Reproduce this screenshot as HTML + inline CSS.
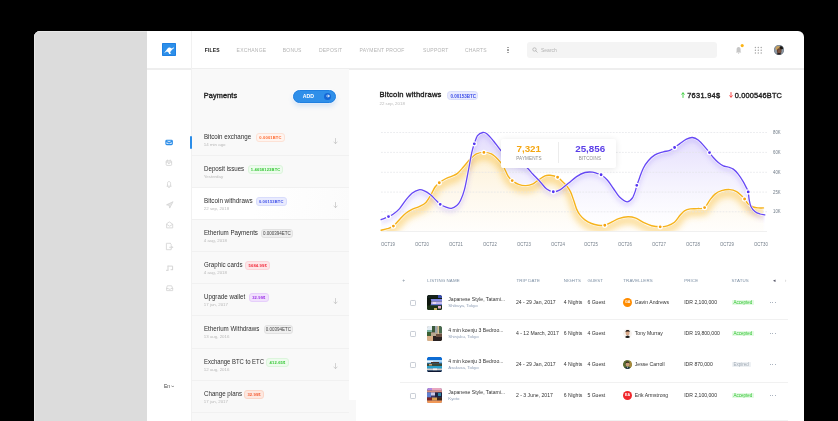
<!DOCTYPE html>
<html><head><meta charset="utf-8">
<style>
*{margin:0;padding:0;box-sizing:border-box}
html,body{width:838px;height:421px;overflow:hidden;background:#000}
body{font-family:"Liberation Sans",sans-serif;position:relative;color:#333;will-change:transform}
.a{position:absolute}
.t{position:absolute;white-space:nowrap;line-height:1}
#frame{left:34px;top:31px;width:770px;height:400px;background:#fff;border-radius:6px 6px 0 0;overflow:hidden}
#gray{left:0;top:0;width:113px;height:400px;background:#dcdcdc;box-shadow:inset 1px 1px 0 #e8e8e8}
.nav{font-size:5px;letter-spacing:0.2px;color:#b4b4b4;top:47.6px}

.pi{position:absolute;left:192px;width:156.5px;height:32.1px;border-bottom:1px solid #f1f1f1}
.pi.sel{background:linear-gradient(100deg,#fff 0%,#fff 40%,#fbfbfb 100%);border-bottom-color:#f0f0f0}
.pt{position:absolute;left:11.8px;top:9.1px;font-size:7.2px;line-height:1;color:#2e2e2e;white-space:nowrap;transform:scaleX(0.86);transform-origin:0 0}
.bd{position:absolute;top:8.7px;font-size:4.1px;letter-spacing:0.15px;font-weight:700;height:8.9px;line-height:7.7px;text-align:center;border-radius:3px;border:0.6px solid transparent;white-space:nowrap}
.bd.r{color:#ff6a30;background:#fff4ef;border-color:#fde2d6}
.bd.g{color:#34c734;background:#edfbed;border-color:#dcf5dc}
.bd.b{color:#3d4ee8;background:#e9ebfe;border-color:#d9ddfc}
.bd.k{color:#444;background:#efefef;border-color:#e2e2e2;font-weight:400;font-size:4.5px;letter-spacing:0}
.bd.rd{color:#f2283a;background:#fde6e8;border-color:#fbd5d9}
.bd.p{color:#9a2fe6;background:#f1e1fd;border-color:#e6cffb}
.bd.o{color:#f45a30;background:#fde8e0;border-color:#fbd6c8}
.pd{position:absolute;left:11.8px;top:19.2px;font-size:4.4px;line-height:1;color:#b9b9b9;white-space:nowrap}
.ar{position:absolute;left:140.5px;top:14px;width:5px;height:6.5px}

.th{position:absolute;top:279.1px;font-size:4.4px;letter-spacing:0.12px;color:#7b8ea3;line-height:1;white-space:nowrap}
.td{position:absolute;font-size:5.1px;color:#333;line-height:1;white-space:nowrap}
.ts{position:absolute;font-size:4.35px;color:#8d9db5;line-height:1;white-space:nowrap}
.cb{position:absolute;left:409.7px;width:6.2px;height:6.2px;border:0.7px solid #c9ced6;border-radius:1.2px;background:#fff}
.th2{position:absolute;left:427.3px;width:15px;height:15px;border-radius:1.5px}
.av{position:absolute;left:623px;width:9.2px;height:9.2px;border-radius:50%;color:#fff;font-size:3.6px;font-weight:700;text-align:center;line-height:9.2px}
.st{position:absolute;left:731.5px;height:5.4px;line-height:5.4px;font-size:4.5px;padding:0 2px;border-radius:0.8px}
.st.ok{background:#e4fae4;color:#35c735}
.st.ex{background:#eef1f4;color:#a0aab4}
.dots{position:absolute;left:769.5px;width:8px;height:2px}
.dots i{position:absolute;top:0;width:1.4px;height:1.4px;border-radius:50%;background:#8f9aaa}
.sep{position:absolute;left:400px;width:388px;height:0.7px;background:#f1f1f1}
.xl{position:absolute;top:241.6px;font-size:5px;color:#717c88;line-height:1;white-space:nowrap;transform:scaleX(0.86);transform-origin:0 0}
.yl{position:absolute;left:773px;font-size:5.2px;color:#717c88;line-height:1;white-space:nowrap;transform:scaleX(0.83);transform-origin:0 0}
</style></head><body>
<div id="frame" class="a">
  <div id="gray" class="a"></div>
</div>

<!-- header lines -->
<div class="a" style="left:147px;top:68.3px;width:657px;height:1.3px;background:#eeeeee"></div>
<div class="a" style="left:191px;top:31px;width:1.1px;height:390px;background:#f1f1f1"></div>

<!-- logo -->
<div class="a" style="left:162.1px;top:42.6px;width:13.8px;height:13.9px;background:#2d8fe9;border:0.6px solid #1f80e2;border-radius:0.8px"></div>

<!-- nav -->
<div class="t nav" style="left:204.7px;color:#222;font-weight:700">FILES</div>
<div class="t nav" style="left:236.6px">EXCHANGE</div>
<div class="t nav" style="left:282.8px">BONUS</div>
<div class="t nav" style="left:319px">DEPOSIT</div>
<div class="t nav" style="left:359.5px">PAYMENT PROOF</div>
<div class="t nav" style="left:423px">SUPPORT</div>
<div class="t nav" style="left:465px">CHARTS</div>

<!-- search -->
<div class="a" style="left:527px;top:42px;width:190px;height:16px;background:#f4f4f4;border-radius:3px"></div>
<div class="t" style="left:541px;top:48.4px;font-size:5px;color:#b4b4b4">Search</div>

<!-- payments panel -->
<div class="a" style="left:192px;top:69px;width:156.5px;height:331.5px;background:#f9f9f9"></div>
<div class="a" style="left:192px;top:400.4px;width:164px;height:21px;background:#f8f8f8"></div>
<div class="t" style="left:203.7px;top:91.7px;font-size:7.3px;letter-spacing:0.15px;color:#222;-webkit-text-stroke:0.35px #222">Payments</div>


<!-- ADD button -->
<div class="a" style="left:293.3px;top:89.5px;width:42.5px;height:13.5px;border-radius:7px;background:#2f8fe9;border:0.6px solid #1f7fe0;box-shadow:0 3px 5px rgba(40,120,220,0.18), 0 0 0 1px #fff"></div>
<div class="t" style="left:302.8px;top:93.6px;font-size:5.2px;font-weight:700;color:#fff">ADD</div>
<div class="a" style="left:324.1px;top:92.6px;width:7.4px;height:7.4px;border-radius:50%;background:#1467d6"></div>
<svg class="a" style="left:325.8px;top:94.3px" width="4" height="4" viewBox="0 0 4 4"><path d="M0.6 2H3.3M2 0.8L3.3 2 2 3.2" stroke="#fff" stroke-width="0.8" fill="none" stroke-linecap="round" stroke-linejoin="round"/></svg>

<!-- active indicator -->
<div class="a" style="left:190px;top:135.7px;width:2px;height:13.3px;background:#2b8de8;border-radius:1px"></div>

<!-- chart header -->
<div class="t" style="left:379.5px;top:91px;font-size:7.6px;letter-spacing:0.2px;color:#222;-webkit-text-stroke:0.35px #222">Bitcoin withdraws</div>
<div class="a" style="left:447.3px;top:90.5px;width:31px;height:9.2px;border-radius:3.5px;background:#e9ebfe;border:0.6px solid #d9ddfc"></div>
<div class="t" style="left:450.4px;top:94.5px;font-size:4.5px;font-weight:700;color:#3d4ee8">0.00153BTC</div>
<div class="t" style="left:379.5px;top:101.9px;font-size:4.4px;color:#b9b9b9">22 sep, 2018</div>

<svg class="a" style="left:681px;top:91.5px" width="4" height="6" viewBox="0 0 4 6" fill="none" stroke="#36cc36" stroke-width="0.9" stroke-linecap="round" stroke-linejoin="round"><path d="M2 5.5V0.9M0.6 2.3L2 0.8 3.4 2.3"/></svg>
<div class="t" style="left:687.2px;top:91.5px;font-size:7.4px;letter-spacing:0.3px;color:#222;-webkit-text-stroke:0.35px #222">7631.94$</div>
<svg class="a" style="left:729.1px;top:91.5px" width="4" height="6" viewBox="0 0 4 6" fill="none" stroke="#f53b3b" stroke-width="0.9" stroke-linecap="round" stroke-linejoin="round"><path d="M2 0.5V5.1M0.6 3.7L2 5.2 3.4 3.7"/></svg>
<div class="t" style="left:734.8px;top:91.5px;font-size:7.4px;letter-spacing:0.15px;color:#222;-webkit-text-stroke:0.35px #222">0.000546BTC</div>

<!--CHART_START-->
<svg class="a" style="left:0;top:0" width="838" height="421" viewBox="0 0 838 421">
<defs><linearGradient id="gp" x1="0" y1="132" x2="0" y2="232" gradientUnits="userSpaceOnUse"><stop offset="0" stop-color="#7250f2" stop-opacity="0.2"/><stop offset="0.45" stop-color="#7c60f4" stop-opacity="0.095"/><stop offset="0.85" stop-color="#9a86f5" stop-opacity="0.02"/><stop offset="1" stop-color="#9a86f5" stop-opacity="0"/></linearGradient><linearGradient id="gy" x1="0" y1="152" x2="0" y2="232" gradientUnits="userSpaceOnUse"><stop offset="0" stop-color="#fdf1d6"/><stop offset="0.5" stop-color="#fef8ec"/><stop offset="1" stop-color="#fffefc"/></linearGradient><filter id="glow2" x="-5%" y="-30%" width="110%" height="160%"><feGaussianBlur stdDeviation="3"/></filter><filter id="glow" x="-5%" y="-20%" width="110%" height="140%"><feGaussianBlur stdDeviation="2.2"/></filter><clipPath id="cy"><path d="M381.10,230.20 C383.17,229.70 385.23,229.39 387.30,228.70 C389.33,228.02 391.37,227.64 393.40,226.10 C395.47,224.54 397.53,221.55 399.60,219.40 C401.67,217.25 403.73,214.87 405.80,213.20 C407.87,211.53 409.93,210.43 412.00,209.40 C414.57,208.13 417.13,207.59 419.70,206.30 C421.77,205.26 423.83,204.47 425.90,202.40 C427.43,200.87 428.97,198.07 430.50,195.50 C432.03,192.93 433.57,189.23 435.10,187.00 C436.50,184.96 437.90,183.79 439.30,182.70 C441.53,180.96 443.77,179.63 446.00,178.50 C448.03,177.47 450.07,177.10 452.10,176.20 C453.90,175.40 455.70,174.87 457.50,173.40 C459.53,171.74 461.57,169.09 463.60,166.80 C465.73,164.39 467.87,161.45 470.00,159.30 C472.13,157.15 474.27,154.96 476.40,153.90 C478.90,152.66 481.40,152.40 483.90,152.40 C486.40,152.40 488.90,152.66 491.40,153.90 C493.53,154.96 495.67,157.11 497.80,159.30 C499.60,161.15 501.40,163.05 503.20,166.00 C504.83,168.68 506.47,173.55 508.10,176.20 C509.47,178.42 510.83,179.54 512.20,180.60 C514.37,182.28 516.53,183.61 518.70,184.40 C521.10,185.28 523.50,185.70 525.90,185.60 C528.27,185.50 530.63,184.87 533.00,183.80 C534.97,182.91 536.93,181.01 538.90,179.70 C540.93,178.34 542.97,176.61 545.00,175.80 C546.67,175.14 548.33,175.13 550.00,175.30 C552.50,175.56 555.00,175.91 557.50,177.10 C558.87,177.75 560.23,179.49 561.60,180.80 C563.27,182.39 564.93,183.70 566.60,185.80 C568.00,187.57 569.40,189.45 570.80,192.40 C571.90,194.72 573.00,198.43 574.10,201.60 C574.93,204.00 575.77,207.19 576.60,209.10 C577.70,211.62 578.80,213.47 579.90,214.90 C581.57,217.07 583.23,218.66 584.90,219.90 C587.10,221.53 589.30,222.62 591.50,223.50 C593.73,224.39 595.97,224.91 598.20,225.20 C600.40,225.48 602.60,225.70 604.80,225.20 C607.03,224.70 609.27,223.27 611.50,222.20 C613.87,221.07 616.23,219.37 618.60,218.60 C621.73,217.57 624.87,216.87 628.00,216.80 C630.60,216.74 633.20,217.23 635.80,218.20 C638.67,219.27 641.53,221.52 644.40,222.90 C646.80,224.05 649.20,225.21 651.60,225.80 C654.47,226.51 657.33,226.80 660.20,226.80 C662.57,226.80 664.93,226.56 667.30,225.80 C669.70,225.03 672.10,224.21 674.50,222.20 C676.40,220.61 678.30,217.17 680.20,215.00 C681.63,213.37 683.07,211.67 684.50,210.80 C686.40,209.64 688.30,209.22 690.20,208.90 C692.60,208.49 695.00,208.82 697.40,208.60 C699.80,208.38 702.20,209.26 704.60,207.60 C706.40,206.36 708.20,202.24 710.00,199.90 C711.67,197.74 713.33,195.42 715.00,194.10 C717.20,192.36 719.40,191.36 721.60,190.70 C724.37,189.86 727.13,189.43 729.90,189.60 C732.13,189.73 734.37,190.44 736.60,191.60 C738.27,192.47 739.93,194.16 741.60,195.70 C742.60,196.62 743.60,197.74 744.60,199.00 C745.80,200.51 747.00,202.88 748.20,204.00 C749.87,205.55 751.53,206.35 753.20,207.00 C754.87,207.65 756.53,207.75 758.20,207.90 C759.97,208.05 761.73,207.90 763.50,207.90 L763.5,231.5 L381,231.5 Z"/></clipPath><clipPath id="cp"><path d="M381.10,219.70 C382.40,219.20 383.70,218.74 385.00,218.20 C386.17,217.71 387.33,217.18 388.50,216.60 C390.13,215.78 391.77,215.18 393.40,214.00 C395.47,212.51 397.53,210.92 399.60,208.60 C401.67,206.28 403.73,202.67 405.80,200.10 C407.87,197.53 409.93,194.82 412.00,193.20 C414.30,191.39 416.60,190.25 418.90,189.80 C420.70,189.45 422.50,190.04 424.30,190.80 C426.37,191.67 428.43,193.04 430.50,194.70 C432.30,196.14 434.10,198.32 435.90,200.10 C437.33,201.52 438.77,203.31 440.20,204.30 C442.13,205.64 444.07,206.41 446.00,207.10 C447.80,207.74 449.60,208.57 451.40,208.30 C453.20,208.03 455.00,207.04 456.80,205.50 C458.03,204.44 459.27,203.08 460.50,200.50 C461.87,197.64 463.23,194.52 464.60,189.20 C466.03,183.62 467.47,175.15 468.90,167.80 C469.83,163.02 470.77,156.95 471.70,152.80 C472.57,148.95 473.43,146.36 474.30,143.80 C475.37,140.66 476.43,137.12 477.50,135.70 C479.27,133.35 481.03,132.81 482.80,132.50 C484.23,132.25 485.67,132.86 487.10,134.00 C489.23,135.69 491.37,138.44 493.50,141.00 C496.00,144.00 498.50,148.05 501.00,150.70 C504.00,153.88 507.00,156.24 510.00,158.50 C512.67,160.51 515.33,162.04 518.00,163.50 C521.00,165.14 524.00,165.64 527.00,167.80 C529.00,169.24 531.00,172.20 533.00,174.30 C534.97,176.37 536.93,178.18 538.90,180.30 C541.50,183.11 544.10,187.04 546.70,189.10 C548.90,190.84 551.10,191.57 553.30,191.70 C555.53,191.83 557.77,191.15 560.00,189.90 C562.77,188.35 565.53,185.52 568.30,183.30 C571.07,181.08 573.83,178.40 576.60,176.60 C579.37,174.80 582.13,173.28 584.90,172.50 C587.43,171.78 589.97,171.93 592.50,172.10 C593.93,172.20 595.37,172.87 596.80,173.30 C598.23,173.73 599.67,173.78 601.10,174.70 C603.23,176.08 605.37,177.81 607.50,180.20 C609.47,182.41 611.43,185.73 613.40,188.50 C615.37,191.27 617.33,194.88 619.30,196.80 C621.87,199.31 624.43,201.56 627.00,201.80 C628.80,201.96 630.60,200.34 632.40,198.00 C633.40,196.70 634.40,193.72 635.40,190.90 C635.90,189.49 636.40,186.85 636.90,185.30 C637.93,182.09 638.97,179.36 640.00,176.60 C641.10,173.66 642.20,170.29 643.30,168.20 C644.97,165.03 646.63,162.71 648.30,160.80 C650.50,158.28 652.70,156.21 654.90,154.90 C657.70,153.24 660.50,152.76 663.30,151.90 C665.50,151.23 667.70,151.16 669.90,150.30 C671.47,149.69 673.03,148.55 674.60,147.50 C676.37,146.32 678.13,144.85 679.90,143.60 C682.10,142.05 684.30,140.17 686.50,139.10 C688.47,138.14 690.43,137.35 692.40,137.50 C694.33,137.65 696.27,138.53 698.20,140.00 C700.47,141.73 702.73,144.57 705.00,147.10 C706.50,148.77 708.00,150.72 709.50,152.60 C710.77,154.19 712.03,156.08 713.30,157.50 C714.97,159.38 716.63,161.12 718.30,162.50 C719.97,163.88 721.63,165.05 723.30,165.80 C724.97,166.55 726.63,166.45 728.30,167.00 C729.97,167.55 731.63,167.90 733.30,169.10 C734.93,170.27 736.57,172.04 738.20,174.10 C739.87,176.20 741.53,178.83 743.20,181.60 C744.20,183.26 745.20,185.34 746.20,187.40 C746.87,188.77 747.53,189.12 748.20,191.90 C748.53,193.29 748.87,198.10 749.20,199.90 C749.77,202.96 750.33,205.35 750.90,206.50 C752.23,209.21 753.57,210.39 754.90,211.50 C756.57,212.89 758.23,213.44 759.90,214.00 C761.53,214.54 763.17,214.53 764.80,214.80 L764.8,231.5 L381,231.5 Z"/></clipPath></defs>
<path d="M381.10,219.70 C382.40,219.20 383.70,218.74 385.00,218.20 C386.17,217.71 387.33,217.18 388.50,216.60 C390.13,215.78 391.77,215.18 393.40,214.00 C395.47,212.51 397.53,210.92 399.60,208.60 C401.67,206.28 403.73,202.67 405.80,200.10 C407.87,197.53 409.93,194.82 412.00,193.20 C414.30,191.39 416.60,190.25 418.90,189.80 C420.70,189.45 422.50,190.04 424.30,190.80 C426.37,191.67 428.43,193.04 430.50,194.70 C432.30,196.14 434.10,198.32 435.90,200.10 C437.33,201.52 438.77,203.31 440.20,204.30 C442.13,205.64 444.07,206.41 446.00,207.10 C447.80,207.74 449.60,208.57 451.40,208.30 C453.20,208.03 455.00,207.04 456.80,205.50 C458.03,204.44 459.27,203.08 460.50,200.50 C461.87,197.64 463.23,194.52 464.60,189.20 C466.03,183.62 467.47,175.15 468.90,167.80 C469.83,163.02 470.77,156.95 471.70,152.80 C472.57,148.95 473.43,146.36 474.30,143.80 C475.37,140.66 476.43,137.12 477.50,135.70 C479.27,133.35 481.03,132.81 482.80,132.50 C484.23,132.25 485.67,132.86 487.10,134.00 C489.23,135.69 491.37,138.44 493.50,141.00 C496.00,144.00 498.50,148.05 501.00,150.70 C504.00,153.88 507.00,156.24 510.00,158.50 C512.67,160.51 515.33,162.04 518.00,163.50 C521.00,165.14 524.00,165.64 527.00,167.80 C529.00,169.24 531.00,172.20 533.00,174.30 C534.97,176.37 536.93,178.18 538.90,180.30 C541.50,183.11 544.10,187.04 546.70,189.10 C548.90,190.84 551.10,191.57 553.30,191.70 C555.53,191.83 557.77,191.15 560.00,189.90 C562.77,188.35 565.53,185.52 568.30,183.30 C571.07,181.08 573.83,178.40 576.60,176.60 C579.37,174.80 582.13,173.28 584.90,172.50 C587.43,171.78 589.97,171.93 592.50,172.10 C593.93,172.20 595.37,172.87 596.80,173.30 C598.23,173.73 599.67,173.78 601.10,174.70 C603.23,176.08 605.37,177.81 607.50,180.20 C609.47,182.41 611.43,185.73 613.40,188.50 C615.37,191.27 617.33,194.88 619.30,196.80 C621.87,199.31 624.43,201.56 627.00,201.80 C628.80,201.96 630.60,200.34 632.40,198.00 C633.40,196.70 634.40,193.72 635.40,190.90 C635.90,189.49 636.40,186.85 636.90,185.30 C637.93,182.09 638.97,179.36 640.00,176.60 C641.10,173.66 642.20,170.29 643.30,168.20 C644.97,165.03 646.63,162.71 648.30,160.80 C650.50,158.28 652.70,156.21 654.90,154.90 C657.70,153.24 660.50,152.76 663.30,151.90 C665.50,151.23 667.70,151.16 669.90,150.30 C671.47,149.69 673.03,148.55 674.60,147.50 C676.37,146.32 678.13,144.85 679.90,143.60 C682.10,142.05 684.30,140.17 686.50,139.10 C688.47,138.14 690.43,137.35 692.40,137.50 C694.33,137.65 696.27,138.53 698.20,140.00 C700.47,141.73 702.73,144.57 705.00,147.10 C706.50,148.77 708.00,150.72 709.50,152.60 C710.77,154.19 712.03,156.08 713.30,157.50 C714.97,159.38 716.63,161.12 718.30,162.50 C719.97,163.88 721.63,165.05 723.30,165.80 C724.97,166.55 726.63,166.45 728.30,167.00 C729.97,167.55 731.63,167.90 733.30,169.10 C734.93,170.27 736.57,172.04 738.20,174.10 C739.87,176.20 741.53,178.83 743.20,181.60 C744.20,183.26 745.20,185.34 746.20,187.40 C746.87,188.77 747.53,189.12 748.20,191.90 C748.53,193.29 748.87,198.10 749.20,199.90 C749.77,202.96 750.33,205.35 750.90,206.50 C752.23,209.21 753.57,210.39 754.90,211.50 C756.57,212.89 758.23,213.44 759.90,214.00 C761.53,214.54 763.17,214.53 764.80,214.80 L764.8,231.5 L381,231.5 Z" fill="url(#gp)"/>
<path d="M381.10,230.20 C383.17,229.70 385.23,229.39 387.30,228.70 C389.33,228.02 391.37,227.64 393.40,226.10 C395.47,224.54 397.53,221.55 399.60,219.40 C401.67,217.25 403.73,214.87 405.80,213.20 C407.87,211.53 409.93,210.43 412.00,209.40 C414.57,208.13 417.13,207.59 419.70,206.30 C421.77,205.26 423.83,204.47 425.90,202.40 C427.43,200.87 428.97,198.07 430.50,195.50 C432.03,192.93 433.57,189.23 435.10,187.00 C436.50,184.96 437.90,183.79 439.30,182.70 C441.53,180.96 443.77,179.63 446.00,178.50 C448.03,177.47 450.07,177.10 452.10,176.20 C453.90,175.40 455.70,174.87 457.50,173.40 C459.53,171.74 461.57,169.09 463.60,166.80 C465.73,164.39 467.87,161.45 470.00,159.30 C472.13,157.15 474.27,154.96 476.40,153.90 C478.90,152.66 481.40,152.40 483.90,152.40 C486.40,152.40 488.90,152.66 491.40,153.90 C493.53,154.96 495.67,157.11 497.80,159.30 C499.60,161.15 501.40,163.05 503.20,166.00 C504.83,168.68 506.47,173.55 508.10,176.20 C509.47,178.42 510.83,179.54 512.20,180.60 C514.37,182.28 516.53,183.61 518.70,184.40 C521.10,185.28 523.50,185.70 525.90,185.60 C528.27,185.50 530.63,184.87 533.00,183.80 C534.97,182.91 536.93,181.01 538.90,179.70 C540.93,178.34 542.97,176.61 545.00,175.80 C546.67,175.14 548.33,175.13 550.00,175.30 C552.50,175.56 555.00,175.91 557.50,177.10 C558.87,177.75 560.23,179.49 561.60,180.80 C563.27,182.39 564.93,183.70 566.60,185.80 C568.00,187.57 569.40,189.45 570.80,192.40 C571.90,194.72 573.00,198.43 574.10,201.60 C574.93,204.00 575.77,207.19 576.60,209.10 C577.70,211.62 578.80,213.47 579.90,214.90 C581.57,217.07 583.23,218.66 584.90,219.90 C587.10,221.53 589.30,222.62 591.50,223.50 C593.73,224.39 595.97,224.91 598.20,225.20 C600.40,225.48 602.60,225.70 604.80,225.20 C607.03,224.70 609.27,223.27 611.50,222.20 C613.87,221.07 616.23,219.37 618.60,218.60 C621.73,217.57 624.87,216.87 628.00,216.80 C630.60,216.74 633.20,217.23 635.80,218.20 C638.67,219.27 641.53,221.52 644.40,222.90 C646.80,224.05 649.20,225.21 651.60,225.80 C654.47,226.51 657.33,226.80 660.20,226.80 C662.57,226.80 664.93,226.56 667.30,225.80 C669.70,225.03 672.10,224.21 674.50,222.20 C676.40,220.61 678.30,217.17 680.20,215.00 C681.63,213.37 683.07,211.67 684.50,210.80 C686.40,209.64 688.30,209.22 690.20,208.90 C692.60,208.49 695.00,208.82 697.40,208.60 C699.80,208.38 702.20,209.26 704.60,207.60 C706.40,206.36 708.20,202.24 710.00,199.90 C711.67,197.74 713.33,195.42 715.00,194.10 C717.20,192.36 719.40,191.36 721.60,190.70 C724.37,189.86 727.13,189.43 729.90,189.60 C732.13,189.73 734.37,190.44 736.60,191.60 C738.27,192.47 739.93,194.16 741.60,195.70 C742.60,196.62 743.60,197.74 744.60,199.00 C745.80,200.51 747.00,202.88 748.20,204.00 C749.87,205.55 751.53,206.35 753.20,207.00 C754.87,207.65 756.53,207.75 758.20,207.90 C759.97,208.05 761.73,207.90 763.50,207.90 L763.5,231.5 L381,231.5 Z" fill="url(#gy)"/>
<g clip-path="url(#cy)"><path d="M381.10,230.20 C383.17,229.70 385.23,229.39 387.30,228.70 C389.33,228.02 391.37,227.64 393.40,226.10 C395.47,224.54 397.53,221.55 399.60,219.40 C401.67,217.25 403.73,214.87 405.80,213.20 C407.87,211.53 409.93,210.43 412.00,209.40 C414.57,208.13 417.13,207.59 419.70,206.30 C421.77,205.26 423.83,204.47 425.90,202.40 C427.43,200.87 428.97,198.07 430.50,195.50 C432.03,192.93 433.57,189.23 435.10,187.00 C436.50,184.96 437.90,183.79 439.30,182.70 C441.53,180.96 443.77,179.63 446.00,178.50 C448.03,177.47 450.07,177.10 452.10,176.20 C453.90,175.40 455.70,174.87 457.50,173.40 C459.53,171.74 461.57,169.09 463.60,166.80 C465.73,164.39 467.87,161.45 470.00,159.30 C472.13,157.15 474.27,154.96 476.40,153.90 C478.90,152.66 481.40,152.40 483.90,152.40 C486.40,152.40 488.90,152.66 491.40,153.90 C493.53,154.96 495.67,157.11 497.80,159.30 C499.60,161.15 501.40,163.05 503.20,166.00 C504.83,168.68 506.47,173.55 508.10,176.20 C509.47,178.42 510.83,179.54 512.20,180.60 C514.37,182.28 516.53,183.61 518.70,184.40 C521.10,185.28 523.50,185.70 525.90,185.60 C528.27,185.50 530.63,184.87 533.00,183.80 C534.97,182.91 536.93,181.01 538.90,179.70 C540.93,178.34 542.97,176.61 545.00,175.80 C546.67,175.14 548.33,175.13 550.00,175.30 C552.50,175.56 555.00,175.91 557.50,177.10 C558.87,177.75 560.23,179.49 561.60,180.80 C563.27,182.39 564.93,183.70 566.60,185.80 C568.00,187.57 569.40,189.45 570.80,192.40 C571.90,194.72 573.00,198.43 574.10,201.60 C574.93,204.00 575.77,207.19 576.60,209.10 C577.70,211.62 578.80,213.47 579.90,214.90 C581.57,217.07 583.23,218.66 584.90,219.90 C587.10,221.53 589.30,222.62 591.50,223.50 C593.73,224.39 595.97,224.91 598.20,225.20 C600.40,225.48 602.60,225.70 604.80,225.20 C607.03,224.70 609.27,223.27 611.50,222.20 C613.87,221.07 616.23,219.37 618.60,218.60 C621.73,217.57 624.87,216.87 628.00,216.80 C630.60,216.74 633.20,217.23 635.80,218.20 C638.67,219.27 641.53,221.52 644.40,222.90 C646.80,224.05 649.20,225.21 651.60,225.80 C654.47,226.51 657.33,226.80 660.20,226.80 C662.57,226.80 664.93,226.56 667.30,225.80 C669.70,225.03 672.10,224.21 674.50,222.20 C676.40,220.61 678.30,217.17 680.20,215.00 C681.63,213.37 683.07,211.67 684.50,210.80 C686.40,209.64 688.30,209.22 690.20,208.90 C692.60,208.49 695.00,208.82 697.40,208.60 C699.80,208.38 702.20,209.26 704.60,207.60 C706.40,206.36 708.20,202.24 710.00,199.90 C711.67,197.74 713.33,195.42 715.00,194.10 C717.20,192.36 719.40,191.36 721.60,190.70 C724.37,189.86 727.13,189.43 729.90,189.60 C732.13,189.73 734.37,190.44 736.60,191.60 C738.27,192.47 739.93,194.16 741.60,195.70 C742.60,196.62 743.60,197.74 744.60,199.00 C745.80,200.51 747.00,202.88 748.20,204.00 C749.87,205.55 751.53,206.35 753.20,207.00 C754.87,207.65 756.53,207.75 758.20,207.90 C759.97,208.05 761.73,207.90 763.50,207.90" transform="translate(0,3.5)" fill="none" stroke="#f9c03c" stroke-opacity="0.5" stroke-width="8" filter="url(#glow2)"/></g>
<g clip-path="url(#cp)"><path d="M381.10,219.70 C382.40,219.20 383.70,218.74 385.00,218.20 C386.17,217.71 387.33,217.18 388.50,216.60 C390.13,215.78 391.77,215.18 393.40,214.00 C395.47,212.51 397.53,210.92 399.60,208.60 C401.67,206.28 403.73,202.67 405.80,200.10 C407.87,197.53 409.93,194.82 412.00,193.20 C414.30,191.39 416.60,190.25 418.90,189.80 C420.70,189.45 422.50,190.04 424.30,190.80 C426.37,191.67 428.43,193.04 430.50,194.70 C432.30,196.14 434.10,198.32 435.90,200.10 C437.33,201.52 438.77,203.31 440.20,204.30 C442.13,205.64 444.07,206.41 446.00,207.10 C447.80,207.74 449.60,208.57 451.40,208.30 C453.20,208.03 455.00,207.04 456.80,205.50 C458.03,204.44 459.27,203.08 460.50,200.50 C461.87,197.64 463.23,194.52 464.60,189.20 C466.03,183.62 467.47,175.15 468.90,167.80 C469.83,163.02 470.77,156.95 471.70,152.80 C472.57,148.95 473.43,146.36 474.30,143.80 C475.37,140.66 476.43,137.12 477.50,135.70 C479.27,133.35 481.03,132.81 482.80,132.50 C484.23,132.25 485.67,132.86 487.10,134.00 C489.23,135.69 491.37,138.44 493.50,141.00 C496.00,144.00 498.50,148.05 501.00,150.70 C504.00,153.88 507.00,156.24 510.00,158.50 C512.67,160.51 515.33,162.04 518.00,163.50 C521.00,165.14 524.00,165.64 527.00,167.80 C529.00,169.24 531.00,172.20 533.00,174.30 C534.97,176.37 536.93,178.18 538.90,180.30 C541.50,183.11 544.10,187.04 546.70,189.10 C548.90,190.84 551.10,191.57 553.30,191.70 C555.53,191.83 557.77,191.15 560.00,189.90 C562.77,188.35 565.53,185.52 568.30,183.30 C571.07,181.08 573.83,178.40 576.60,176.60 C579.37,174.80 582.13,173.28 584.90,172.50 C587.43,171.78 589.97,171.93 592.50,172.10 C593.93,172.20 595.37,172.87 596.80,173.30 C598.23,173.73 599.67,173.78 601.10,174.70 C603.23,176.08 605.37,177.81 607.50,180.20 C609.47,182.41 611.43,185.73 613.40,188.50 C615.37,191.27 617.33,194.88 619.30,196.80 C621.87,199.31 624.43,201.56 627.00,201.80 C628.80,201.96 630.60,200.34 632.40,198.00 C633.40,196.70 634.40,193.72 635.40,190.90 C635.90,189.49 636.40,186.85 636.90,185.30 C637.93,182.09 638.97,179.36 640.00,176.60 C641.10,173.66 642.20,170.29 643.30,168.20 C644.97,165.03 646.63,162.71 648.30,160.80 C650.50,158.28 652.70,156.21 654.90,154.90 C657.70,153.24 660.50,152.76 663.30,151.90 C665.50,151.23 667.70,151.16 669.90,150.30 C671.47,149.69 673.03,148.55 674.60,147.50 C676.37,146.32 678.13,144.85 679.90,143.60 C682.10,142.05 684.30,140.17 686.50,139.10 C688.47,138.14 690.43,137.35 692.40,137.50 C694.33,137.65 696.27,138.53 698.20,140.00 C700.47,141.73 702.73,144.57 705.00,147.10 C706.50,148.77 708.00,150.72 709.50,152.60 C710.77,154.19 712.03,156.08 713.30,157.50 C714.97,159.38 716.63,161.12 718.30,162.50 C719.97,163.88 721.63,165.05 723.30,165.80 C724.97,166.55 726.63,166.45 728.30,167.00 C729.97,167.55 731.63,167.90 733.30,169.10 C734.93,170.27 736.57,172.04 738.20,174.10 C739.87,176.20 741.53,178.83 743.20,181.60 C744.20,183.26 745.20,185.34 746.20,187.40 C746.87,188.77 747.53,189.12 748.20,191.90 C748.53,193.29 748.87,198.10 749.20,199.90 C749.77,202.96 750.33,205.35 750.90,206.50 C752.23,209.21 753.57,210.39 754.90,211.50 C756.57,212.89 758.23,213.44 759.90,214.00 C761.53,214.54 763.17,214.53 764.80,214.80" transform="translate(0,2.5)" fill="none" stroke="#7a5cf5" stroke-opacity="0.2" stroke-width="4" filter="url(#glow)"/></g>
<line x1="381" y1="132.5" x2="767" y2="132.5" stroke="#e2e4e8" stroke-width="0.7" stroke-dasharray="1.8 1.25"/>
<line x1="381" y1="152.4" x2="767" y2="152.4" stroke="#e2e4e8" stroke-width="0.7" stroke-dasharray="1.8 1.25"/>
<line x1="381" y1="172.3" x2="767" y2="172.3" stroke="#e2e4e8" stroke-width="0.7" stroke-dasharray="1.8 1.25"/>
<line x1="381" y1="192.1" x2="767" y2="192.1" stroke="#e2e4e8" stroke-width="0.7" stroke-dasharray="1.8 1.25"/>
<line x1="381" y1="211.8" x2="767" y2="211.8" stroke="#e2e4e8" stroke-width="0.7" stroke-dasharray="1.8 1.25"/>
<line x1="381" y1="231.5" x2="767" y2="231.5" stroke="#f0f0f0" stroke-width="1"/>
<path d="M381.10,230.20 C383.17,229.70 385.23,229.39 387.30,228.70 C389.33,228.02 391.37,227.64 393.40,226.10 C395.47,224.54 397.53,221.55 399.60,219.40 C401.67,217.25 403.73,214.87 405.80,213.20 C407.87,211.53 409.93,210.43 412.00,209.40 C414.57,208.13 417.13,207.59 419.70,206.30 C421.77,205.26 423.83,204.47 425.90,202.40 C427.43,200.87 428.97,198.07 430.50,195.50 C432.03,192.93 433.57,189.23 435.10,187.00 C436.50,184.96 437.90,183.79 439.30,182.70 C441.53,180.96 443.77,179.63 446.00,178.50 C448.03,177.47 450.07,177.10 452.10,176.20 C453.90,175.40 455.70,174.87 457.50,173.40 C459.53,171.74 461.57,169.09 463.60,166.80 C465.73,164.39 467.87,161.45 470.00,159.30 C472.13,157.15 474.27,154.96 476.40,153.90 C478.90,152.66 481.40,152.40 483.90,152.40 C486.40,152.40 488.90,152.66 491.40,153.90 C493.53,154.96 495.67,157.11 497.80,159.30 C499.60,161.15 501.40,163.05 503.20,166.00 C504.83,168.68 506.47,173.55 508.10,176.20 C509.47,178.42 510.83,179.54 512.20,180.60 C514.37,182.28 516.53,183.61 518.70,184.40 C521.10,185.28 523.50,185.70 525.90,185.60 C528.27,185.50 530.63,184.87 533.00,183.80 C534.97,182.91 536.93,181.01 538.90,179.70 C540.93,178.34 542.97,176.61 545.00,175.80 C546.67,175.14 548.33,175.13 550.00,175.30 C552.50,175.56 555.00,175.91 557.50,177.10 C558.87,177.75 560.23,179.49 561.60,180.80 C563.27,182.39 564.93,183.70 566.60,185.80 C568.00,187.57 569.40,189.45 570.80,192.40 C571.90,194.72 573.00,198.43 574.10,201.60 C574.93,204.00 575.77,207.19 576.60,209.10 C577.70,211.62 578.80,213.47 579.90,214.90 C581.57,217.07 583.23,218.66 584.90,219.90 C587.10,221.53 589.30,222.62 591.50,223.50 C593.73,224.39 595.97,224.91 598.20,225.20 C600.40,225.48 602.60,225.70 604.80,225.20 C607.03,224.70 609.27,223.27 611.50,222.20 C613.87,221.07 616.23,219.37 618.60,218.60 C621.73,217.57 624.87,216.87 628.00,216.80 C630.60,216.74 633.20,217.23 635.80,218.20 C638.67,219.27 641.53,221.52 644.40,222.90 C646.80,224.05 649.20,225.21 651.60,225.80 C654.47,226.51 657.33,226.80 660.20,226.80 C662.57,226.80 664.93,226.56 667.30,225.80 C669.70,225.03 672.10,224.21 674.50,222.20 C676.40,220.61 678.30,217.17 680.20,215.00 C681.63,213.37 683.07,211.67 684.50,210.80 C686.40,209.64 688.30,209.22 690.20,208.90 C692.60,208.49 695.00,208.82 697.40,208.60 C699.80,208.38 702.20,209.26 704.60,207.60 C706.40,206.36 708.20,202.24 710.00,199.90 C711.67,197.74 713.33,195.42 715.00,194.10 C717.20,192.36 719.40,191.36 721.60,190.70 C724.37,189.86 727.13,189.43 729.90,189.60 C732.13,189.73 734.37,190.44 736.60,191.60 C738.27,192.47 739.93,194.16 741.60,195.70 C742.60,196.62 743.60,197.74 744.60,199.00 C745.80,200.51 747.00,202.88 748.20,204.00 C749.87,205.55 751.53,206.35 753.20,207.00 C754.87,207.65 756.53,207.75 758.20,207.90 C759.97,208.05 761.73,207.90 763.50,207.90" fill="none" stroke="#fff" stroke-opacity="0.8" stroke-width="2.6"/>
<path d="M381.10,230.20 C383.17,229.70 385.23,229.39 387.30,228.70 C389.33,228.02 391.37,227.64 393.40,226.10 C395.47,224.54 397.53,221.55 399.60,219.40 C401.67,217.25 403.73,214.87 405.80,213.20 C407.87,211.53 409.93,210.43 412.00,209.40 C414.57,208.13 417.13,207.59 419.70,206.30 C421.77,205.26 423.83,204.47 425.90,202.40 C427.43,200.87 428.97,198.07 430.50,195.50 C432.03,192.93 433.57,189.23 435.10,187.00 C436.50,184.96 437.90,183.79 439.30,182.70 C441.53,180.96 443.77,179.63 446.00,178.50 C448.03,177.47 450.07,177.10 452.10,176.20 C453.90,175.40 455.70,174.87 457.50,173.40 C459.53,171.74 461.57,169.09 463.60,166.80 C465.73,164.39 467.87,161.45 470.00,159.30 C472.13,157.15 474.27,154.96 476.40,153.90 C478.90,152.66 481.40,152.40 483.90,152.40 C486.40,152.40 488.90,152.66 491.40,153.90 C493.53,154.96 495.67,157.11 497.80,159.30 C499.60,161.15 501.40,163.05 503.20,166.00 C504.83,168.68 506.47,173.55 508.10,176.20 C509.47,178.42 510.83,179.54 512.20,180.60 C514.37,182.28 516.53,183.61 518.70,184.40 C521.10,185.28 523.50,185.70 525.90,185.60 C528.27,185.50 530.63,184.87 533.00,183.80 C534.97,182.91 536.93,181.01 538.90,179.70 C540.93,178.34 542.97,176.61 545.00,175.80 C546.67,175.14 548.33,175.13 550.00,175.30 C552.50,175.56 555.00,175.91 557.50,177.10 C558.87,177.75 560.23,179.49 561.60,180.80 C563.27,182.39 564.93,183.70 566.60,185.80 C568.00,187.57 569.40,189.45 570.80,192.40 C571.90,194.72 573.00,198.43 574.10,201.60 C574.93,204.00 575.77,207.19 576.60,209.10 C577.70,211.62 578.80,213.47 579.90,214.90 C581.57,217.07 583.23,218.66 584.90,219.90 C587.10,221.53 589.30,222.62 591.50,223.50 C593.73,224.39 595.97,224.91 598.20,225.20 C600.40,225.48 602.60,225.70 604.80,225.20 C607.03,224.70 609.27,223.27 611.50,222.20 C613.87,221.07 616.23,219.37 618.60,218.60 C621.73,217.57 624.87,216.87 628.00,216.80 C630.60,216.74 633.20,217.23 635.80,218.20 C638.67,219.27 641.53,221.52 644.40,222.90 C646.80,224.05 649.20,225.21 651.60,225.80 C654.47,226.51 657.33,226.80 660.20,226.80 C662.57,226.80 664.93,226.56 667.30,225.80 C669.70,225.03 672.10,224.21 674.50,222.20 C676.40,220.61 678.30,217.17 680.20,215.00 C681.63,213.37 683.07,211.67 684.50,210.80 C686.40,209.64 688.30,209.22 690.20,208.90 C692.60,208.49 695.00,208.82 697.40,208.60 C699.80,208.38 702.20,209.26 704.60,207.60 C706.40,206.36 708.20,202.24 710.00,199.90 C711.67,197.74 713.33,195.42 715.00,194.10 C717.20,192.36 719.40,191.36 721.60,190.70 C724.37,189.86 727.13,189.43 729.90,189.60 C732.13,189.73 734.37,190.44 736.60,191.60 C738.27,192.47 739.93,194.16 741.60,195.70 C742.60,196.62 743.60,197.74 744.60,199.00 C745.80,200.51 747.00,202.88 748.20,204.00 C749.87,205.55 751.53,206.35 753.20,207.00 C754.87,207.65 756.53,207.75 758.20,207.90 C759.97,208.05 761.73,207.90 763.50,207.90" fill="none" stroke="#f6b31c" stroke-width="1.4" stroke-linecap="round"/>
<path d="M381.10,219.70 C382.40,219.20 383.70,218.74 385.00,218.20 C386.17,217.71 387.33,217.18 388.50,216.60 C390.13,215.78 391.77,215.18 393.40,214.00 C395.47,212.51 397.53,210.92 399.60,208.60 C401.67,206.28 403.73,202.67 405.80,200.10 C407.87,197.53 409.93,194.82 412.00,193.20 C414.30,191.39 416.60,190.25 418.90,189.80 C420.70,189.45 422.50,190.04 424.30,190.80 C426.37,191.67 428.43,193.04 430.50,194.70 C432.30,196.14 434.10,198.32 435.90,200.10 C437.33,201.52 438.77,203.31 440.20,204.30 C442.13,205.64 444.07,206.41 446.00,207.10 C447.80,207.74 449.60,208.57 451.40,208.30 C453.20,208.03 455.00,207.04 456.80,205.50 C458.03,204.44 459.27,203.08 460.50,200.50 C461.87,197.64 463.23,194.52 464.60,189.20 C466.03,183.62 467.47,175.15 468.90,167.80 C469.83,163.02 470.77,156.95 471.70,152.80 C472.57,148.95 473.43,146.36 474.30,143.80 C475.37,140.66 476.43,137.12 477.50,135.70 C479.27,133.35 481.03,132.81 482.80,132.50 C484.23,132.25 485.67,132.86 487.10,134.00 C489.23,135.69 491.37,138.44 493.50,141.00 C496.00,144.00 498.50,148.05 501.00,150.70 C504.00,153.88 507.00,156.24 510.00,158.50 C512.67,160.51 515.33,162.04 518.00,163.50 C521.00,165.14 524.00,165.64 527.00,167.80 C529.00,169.24 531.00,172.20 533.00,174.30 C534.97,176.37 536.93,178.18 538.90,180.30 C541.50,183.11 544.10,187.04 546.70,189.10 C548.90,190.84 551.10,191.57 553.30,191.70 C555.53,191.83 557.77,191.15 560.00,189.90 C562.77,188.35 565.53,185.52 568.30,183.30 C571.07,181.08 573.83,178.40 576.60,176.60 C579.37,174.80 582.13,173.28 584.90,172.50 C587.43,171.78 589.97,171.93 592.50,172.10 C593.93,172.20 595.37,172.87 596.80,173.30 C598.23,173.73 599.67,173.78 601.10,174.70 C603.23,176.08 605.37,177.81 607.50,180.20 C609.47,182.41 611.43,185.73 613.40,188.50 C615.37,191.27 617.33,194.88 619.30,196.80 C621.87,199.31 624.43,201.56 627.00,201.80 C628.80,201.96 630.60,200.34 632.40,198.00 C633.40,196.70 634.40,193.72 635.40,190.90 C635.90,189.49 636.40,186.85 636.90,185.30 C637.93,182.09 638.97,179.36 640.00,176.60 C641.10,173.66 642.20,170.29 643.30,168.20 C644.97,165.03 646.63,162.71 648.30,160.80 C650.50,158.28 652.70,156.21 654.90,154.90 C657.70,153.24 660.50,152.76 663.30,151.90 C665.50,151.23 667.70,151.16 669.90,150.30 C671.47,149.69 673.03,148.55 674.60,147.50 C676.37,146.32 678.13,144.85 679.90,143.60 C682.10,142.05 684.30,140.17 686.50,139.10 C688.47,138.14 690.43,137.35 692.40,137.50 C694.33,137.65 696.27,138.53 698.20,140.00 C700.47,141.73 702.73,144.57 705.00,147.10 C706.50,148.77 708.00,150.72 709.50,152.60 C710.77,154.19 712.03,156.08 713.30,157.50 C714.97,159.38 716.63,161.12 718.30,162.50 C719.97,163.88 721.63,165.05 723.30,165.80 C724.97,166.55 726.63,166.45 728.30,167.00 C729.97,167.55 731.63,167.90 733.30,169.10 C734.93,170.27 736.57,172.04 738.20,174.10 C739.87,176.20 741.53,178.83 743.20,181.60 C744.20,183.26 745.20,185.34 746.20,187.40 C746.87,188.77 747.53,189.12 748.20,191.90 C748.53,193.29 748.87,198.10 749.20,199.90 C749.77,202.96 750.33,205.35 750.90,206.50 C752.23,209.21 753.57,210.39 754.90,211.50 C756.57,212.89 758.23,213.44 759.90,214.00 C761.53,214.54 763.17,214.53 764.80,214.80" fill="none" stroke="#fff" stroke-opacity="0.8" stroke-width="2.6"/>
<path d="M381.10,219.70 C382.40,219.20 383.70,218.74 385.00,218.20 C386.17,217.71 387.33,217.18 388.50,216.60 C390.13,215.78 391.77,215.18 393.40,214.00 C395.47,212.51 397.53,210.92 399.60,208.60 C401.67,206.28 403.73,202.67 405.80,200.10 C407.87,197.53 409.93,194.82 412.00,193.20 C414.30,191.39 416.60,190.25 418.90,189.80 C420.70,189.45 422.50,190.04 424.30,190.80 C426.37,191.67 428.43,193.04 430.50,194.70 C432.30,196.14 434.10,198.32 435.90,200.10 C437.33,201.52 438.77,203.31 440.20,204.30 C442.13,205.64 444.07,206.41 446.00,207.10 C447.80,207.74 449.60,208.57 451.40,208.30 C453.20,208.03 455.00,207.04 456.80,205.50 C458.03,204.44 459.27,203.08 460.50,200.50 C461.87,197.64 463.23,194.52 464.60,189.20 C466.03,183.62 467.47,175.15 468.90,167.80 C469.83,163.02 470.77,156.95 471.70,152.80 C472.57,148.95 473.43,146.36 474.30,143.80 C475.37,140.66 476.43,137.12 477.50,135.70 C479.27,133.35 481.03,132.81 482.80,132.50 C484.23,132.25 485.67,132.86 487.10,134.00 C489.23,135.69 491.37,138.44 493.50,141.00 C496.00,144.00 498.50,148.05 501.00,150.70 C504.00,153.88 507.00,156.24 510.00,158.50 C512.67,160.51 515.33,162.04 518.00,163.50 C521.00,165.14 524.00,165.64 527.00,167.80 C529.00,169.24 531.00,172.20 533.00,174.30 C534.97,176.37 536.93,178.18 538.90,180.30 C541.50,183.11 544.10,187.04 546.70,189.10 C548.90,190.84 551.10,191.57 553.30,191.70 C555.53,191.83 557.77,191.15 560.00,189.90 C562.77,188.35 565.53,185.52 568.30,183.30 C571.07,181.08 573.83,178.40 576.60,176.60 C579.37,174.80 582.13,173.28 584.90,172.50 C587.43,171.78 589.97,171.93 592.50,172.10 C593.93,172.20 595.37,172.87 596.80,173.30 C598.23,173.73 599.67,173.78 601.10,174.70 C603.23,176.08 605.37,177.81 607.50,180.20 C609.47,182.41 611.43,185.73 613.40,188.50 C615.37,191.27 617.33,194.88 619.30,196.80 C621.87,199.31 624.43,201.56 627.00,201.80 C628.80,201.96 630.60,200.34 632.40,198.00 C633.40,196.70 634.40,193.72 635.40,190.90 C635.90,189.49 636.40,186.85 636.90,185.30 C637.93,182.09 638.97,179.36 640.00,176.60 C641.10,173.66 642.20,170.29 643.30,168.20 C644.97,165.03 646.63,162.71 648.30,160.80 C650.50,158.28 652.70,156.21 654.90,154.90 C657.70,153.24 660.50,152.76 663.30,151.90 C665.50,151.23 667.70,151.16 669.90,150.30 C671.47,149.69 673.03,148.55 674.60,147.50 C676.37,146.32 678.13,144.85 679.90,143.60 C682.10,142.05 684.30,140.17 686.50,139.10 C688.47,138.14 690.43,137.35 692.40,137.50 C694.33,137.65 696.27,138.53 698.20,140.00 C700.47,141.73 702.73,144.57 705.00,147.10 C706.50,148.77 708.00,150.72 709.50,152.60 C710.77,154.19 712.03,156.08 713.30,157.50 C714.97,159.38 716.63,161.12 718.30,162.50 C719.97,163.88 721.63,165.05 723.30,165.80 C724.97,166.55 726.63,166.45 728.30,167.00 C729.97,167.55 731.63,167.90 733.30,169.10 C734.93,170.27 736.57,172.04 738.20,174.10 C739.87,176.20 741.53,178.83 743.20,181.60 C744.20,183.26 745.20,185.34 746.20,187.40 C746.87,188.77 747.53,189.12 748.20,191.90 C748.53,193.29 748.87,198.10 749.20,199.90 C749.77,202.96 750.33,205.35 750.90,206.50 C752.23,209.21 753.57,210.39 754.90,211.50 C756.57,212.89 758.23,213.44 759.90,214.00 C761.53,214.54 763.17,214.53 764.80,214.80" fill="none" stroke="#6648f5" stroke-width="1.3" stroke-linecap="round"/>
<circle cx="393.4" cy="226.1" r="2.05" fill="#f5a20f" stroke="#fff" stroke-width="1.25"/>
<circle cx="439.3" cy="182.7" r="2.05" fill="#f5a20f" stroke="#fff" stroke-width="1.25"/>
<circle cx="483.9" cy="152.4" r="2.05" fill="#f5a20f" stroke="#fff" stroke-width="1.25"/>
<circle cx="512.2" cy="180.6" r="2.05" fill="#f5a20f" stroke="#fff" stroke-width="1.25"/>
<circle cx="557.6" cy="177.2" r="2.05" fill="#f5a20f" stroke="#fff" stroke-width="1.25"/>
<circle cx="604.8" cy="225.2" r="2.05" fill="#f5a20f" stroke="#fff" stroke-width="1.25"/>
<circle cx="660.2" cy="226.8" r="2.05" fill="#f5a20f" stroke="#fff" stroke-width="1.25"/>
<circle cx="704.6" cy="207.6" r="2.05" fill="#f5a20f" stroke="#fff" stroke-width="1.25"/>
<circle cx="744.6" cy="199" r="2.05" fill="#f5a20f" stroke="#fff" stroke-width="1.25"/>
<circle cx="388.5" cy="216.6" r="2.05" fill="#5535f2" stroke="#fff" stroke-width="1.25"/>
<circle cx="440.2" cy="204.3" r="2.05" fill="#5535f2" stroke="#fff" stroke-width="1.25"/>
<circle cx="474.3" cy="143.8" r="2.05" fill="#5535f2" stroke="#fff" stroke-width="1.25"/>
<circle cx="553.3" cy="191.7" r="2.05" fill="#5535f2" stroke="#fff" stroke-width="1.25"/>
<circle cx="601.1" cy="174.7" r="2.05" fill="#5535f2" stroke="#fff" stroke-width="1.25"/>
<circle cx="636.8" cy="185.3" r="2.05" fill="#5535f2" stroke="#fff" stroke-width="1.25"/>
<circle cx="674.6" cy="147.5" r="2.05" fill="#5535f2" stroke="#fff" stroke-width="1.25"/>
<circle cx="709.5" cy="152.6" r="2.05" fill="#5535f2" stroke="#fff" stroke-width="1.25"/>
<circle cx="748.2" cy="191.9" r="2.05" fill="#5535f2" stroke="#fff" stroke-width="1.25"/>
</svg>
<!--CHART_END-->

<!-- tooltip -->
<div class="a" style="left:501.2px;top:138.5px;width:115px;height:29.5px;background:#fff;border-radius:2px;box-shadow:0 1px 6px rgba(0,0,0,0.10)"></div>
<div class="a" style="left:558.3px;top:142.4px;width:0.7px;height:20.5px;background:#ececec"></div>
<div class="t" style="left:516.5px;top:144px;font-size:9.8px;font-weight:700;color:#f5a712">7,321</div>
<div class="t" style="left:516.3px;top:157.3px;font-size:4.6px;letter-spacing:0.1px;color:#8e8e8e">PAYMENTS</div>
<div class="t" style="left:575.2px;top:144px;font-size:9.8px;font-weight:700;color:#5a3ee8">25,856</div>
<div class="t" style="left:578.7px;top:157.3px;font-size:4.6px;letter-spacing:0.1px;color:#8e8e8e">BITCOINS</div>


<!-- sidebar icons -->
<svg class="a" style="left:0;top:0;pointer-events:none" width="838" height="421" viewBox="0 0 838 421" fill="none" stroke-linecap="round" stroke-linejoin="round">
<g stroke="#2b8de8" stroke-width="1.1">
<rect x="165.9" y="140.3" width="6.4" height="4.3" rx="0.9" fill="#cfe4fa"/>
<path d="M166.3 141.2L169.1 143 171.9 141.2"/>
</g>
<g stroke="#d5d5d5" stroke-width="0.85">
<rect x="166.2" y="160.8" width="5.4" height="4.6" rx="0.7"/>
<path d="M166.2 162.2H171.6M167.6 160V161.2M170.2 160V161.2"/>
<rect x="168.2" y="163" width="1.4" height="1" fill="#d2d2d2" stroke="none"/>
<path d="M167 186.2H171.1M167.5 186.1V183.6C167.5 182.2 168.1 181.5 169 181.5 169.9 181.5 170.6 182.2 170.6 183.6V186.1M168.6 187.4H169.4"/>
<path d="M172.7 201.9L166.6 204.8 169.1 205.3 169.6 207.7Z" fill="#e6e6e6"/>
<path d="M166.6 224.2V227.9H172.7V224.2L169.65 222.1Z"/>
<path d="M166.8 224.4L169.65 226.2 172.5 224.4"/>
<path d="M170.2 243.3H166.4V249.7H171.2V246.3M170.2 243.3L171.2 244.5V245.4M169.6 247.3H172.7M171.8 246.4L172.7 247.3 171.8 248.2"/>
<path d="M168 266.1H172.6V269.6M168 266.1V270.1M166.4 270.3H168M171 269.7H172.6" stroke-width="1"/>
<path d="M166.6 288.5V290.6H172.7V288.5L171.6 285.8H167.7Z"/>
<path d="M166.6 288.5H168.3L168.8 289.2H170.5L171 288.5H172.7"/>
</g>
</svg>
<!-- logo kangaroo -->
<svg class="a" style="left:162.1px;top:42.6px" width="14" height="14" viewBox="0 0 14 14">
<path d="M2 10C3 8.8 4 7.4 5 6.2C5.8 5 6.8 4.4 7.8 4.6C8.6 4.8 9.2 5.6 9.8 5.6C10.4 5.4 10.8 4.5 11.4 4.4L12.2 4.7L11.6 5.5C10.9 6 10.2 6.6 9.6 7.2C9 7.8 8.4 8.4 8.2 9.2L8.4 10.3L9.2 10.9L7.2 10.9L6.6 9.6C6.1 9.3 5.6 9 5 8.6C4 9.2 3 9.8 2 10Z" fill="#fff"/>
</svg>
<!-- nav more dots -->
<div class="a" style="left:507.4px;top:46.8px;width:1.2px;height:1.2px;border-radius:50%;background:#9a9a9a"></div>
<div class="a" style="left:507.4px;top:49.4px;width:1.2px;height:1.2px;border-radius:50%;background:#9a9a9a"></div>
<div class="a" style="left:507.4px;top:52px;width:1.2px;height:1.2px;border-radius:50%;background:#9a9a9a"></div>
<!-- search icon -->
<svg class="a" style="left:532px;top:46.5px" width="6" height="6" viewBox="0 0 6 6" fill="none" stroke="#aaa" stroke-width="0.7"><circle cx="2.5" cy="2.5" r="1.7"/><path d="M3.8 3.8L5.2 5.2" stroke-linecap="round"/></svg>
<!-- bell -->
<svg class="a" style="left:734px;top:43px;overflow:visible" width="10" height="12" viewBox="0 0 10 12">
<path d="M1.9 9.6H7.3L6.6 8.6V6.4C6.6 5.1 5.9 4.2 4.6 4 3.3 4.2 2.6 5.1 2.6 6.4V8.6Z" fill="#c6c6c6"/>
<path d="M4.1 9.8H5.1V10.8H4.1Z" fill="#c6c6c6"/>
<circle cx="8.2" cy="2.6" r="1.55" fill="#fbb416"/>
</svg>
<!-- grid -->
<svg class="a" style="left:754px;top:46px" width="9" height="9" viewBox="0 0 9 9" fill="#a4a4a4">
<circle cx="1.4" cy="1.5" r="0.72"/><circle cx="4.3" cy="1.5" r="0.72"/><circle cx="7.2" cy="1.5" r="0.72"/>
<circle cx="1.4" cy="4.3" r="0.72"/><circle cx="4.3" cy="4.3" r="0.72"/><circle cx="7.2" cy="4.3" r="0.72"/>
<circle cx="1.4" cy="7.0" r="0.72"/><circle cx="4.3" cy="7.0" r="0.72"/><circle cx="7.2" cy="7.0" r="0.72"/>
</svg>
<!-- avatar -->
<svg class="a" style="left:774px;top:45.3px" width="10" height="10" viewBox="0 0 10 10">
<defs><clipPath id="avc"><circle cx="5" cy="5" r="4.9"/></clipPath></defs>
<g clip-path="url(#avc)">
<rect width="10" height="10" fill="#7d8a96"/>
<path d="M0 0H10V10H0Z" fill="#8e9aa6"/>
<ellipse cx="4.2" cy="3.2" rx="2.6" ry="2.2" fill="#c9a05c"/>
<ellipse cx="7.4" cy="2.8" rx="1.9" ry="1.8" fill="#1b1612"/>
<ellipse cx="5.2" cy="6" rx="2.3" ry="2.8" fill="#5e3f2e"/>
<ellipse cx="5.4" cy="6.2" rx="1.5" ry="2" fill="#7a5240"/>
<path d="M2 10C2.5 8.4 3.6 8 5 8S7.6 8.6 8 10Z" fill="#2a2020"/>
</g>
<circle cx="5" cy="5" r="4.7" fill="none" stroke="#6d7680" stroke-width="0.4"/>
</svg>
<!-- En -->
<div class="t" style="left:163.9px;top:383.6px;font-size:5px;color:#444">En</div>
<svg class="a" style="left:170.6px;top:385.4px" width="3.5" height="3" viewBox="0 0 3.5 3" fill="none" stroke="#666" stroke-width="0.7"><path d="M0.4 0.6L1.75 2 3.1 0.6"/></svg>

<!-- table -->
<div class="xl" style="left:381.0px">OCT19</div>
<div class="xl" style="left:414.9px">OCT20</div>
<div class="xl" style="left:448.8px">OCT21</div>
<div class="xl" style="left:482.7px">OCT22</div>
<div class="xl" style="left:516.6px">OCT23</div>
<div class="xl" style="left:550.5px">OCT24</div>
<div class="xl" style="left:584.4px">OCT25</div>
<div class="xl" style="left:618.3px">OCT26</div>
<div class="xl" style="left:652.2px">OCT27</div>
<div class="xl" style="left:686.1px">OCT28</div>
<div class="xl" style="left:720.0px">OCT29</div>
<div class="xl" style="left:753.9px">OCT30</div>
<div class="yl" style="top:130.1px">80K</div>
<div class="yl" style="top:150.0px">60K</div>
<div class="yl" style="top:170.0px">40K</div>
<div class="yl" style="top:189.9px">25K</div>
<div class="yl" style="top:209.1px">10K</div>
<div class="th" style="left:402.2px;font-size:5px;top:277.9px;color:#8593a1">+</div>
<div class="th" style="left:427.3px">LISTING NAME</div>
<div class="th" style="left:516.5px">TRIP DATE</div>
<div class="th" style="left:563.7px">NIGHTS</div>
<div class="th" style="left:587.4px">GUEST</div>
<div class="th" style="left:623.3px">TRAVELLERS</div>
<div class="th" style="left:684.2px">PRICE</div>
<div class="th" style="left:731.5px">STATUS</div>
<div class="th" style="left:772.6px;font-size:5px;top:277.9px;color:#556">&#9666;</div>
<div class="th" style="left:784.8px;font-size:5px;top:277.9px;color:#c8c8c8">&#8250;</div>
<div class="cb" style="top:299.5px"></div>
<svg class="th2" style="top:295.1px" viewBox="0 0 15 15"><defs><clipPath id="c1"><rect width="15" height="15" rx="1.5"/></clipPath><filter id="bl1" x="-10%" y="-10%" width="120%" height="120%"><feGaussianBlur stdDeviation="0.7"/></filter></defs><g clip-path="url(#c1)"><rect width="15" height="15" fill="#0f1c10"/><g filter="url(#bl1)"><rect x="0" y="0" width="15" height="3" fill="#14241a"/><rect x="11" y="0" width="4" height="3" fill="#3b4fb0"/><rect x="3" y="4" width="12" height="2.5" fill="#7f86e0"/><rect x="4" y="6.5" width="11" height="2.5" fill="#c4b8ee"/><rect x="6" y="7" width="3" height="2" fill="#e8d8f0"/><rect x="3" y="9" width="12" height="1.5" fill="#6a7ad0"/><ellipse cx="2" cy="7" rx="2.2" ry="4" fill="#0c160c"/><rect x="0" y="10.5" width="15" height="4.5" fill="#1c3216"/><rect x="11" y="11" width="3" height="2.5" fill="#e0a8c8"/><rect x="7" y="13" width="3" height="2" fill="#c8b060"/></g></g></svg>
<div class="td" style="left:448.3px;top:297.4px">Japanese Style, Tatami...</div>
<div class="ts" style="left:448.3px;top:303.8px">Shibuya, Tokyo</div>
<div class="td" style="left:516px;top:300.4px">24 - 29 Jan, 2017</div>
<div class="td" style="left:563.7px;top:300.4px">4 Nights</div>
<div class="td" style="left:587.4px;top:300.4px">6 Guest</div>
<div class="av" style="top:298.0px;background:#ff8c00">GA</div>
<div class="td" style="left:634.8px;top:300.4px">Gavin Andrews</div>
<div class="td" style="left:684.2px;top:300.4px">IDR 2,100,000</div>
<div class="st ok" style="top:299.9px">Accepted</div>
<div class="dots" style="top:302.0px"><i style="left:0"></i><i style="left:2.6px"></i><i style="left:5.2px"></i></div>
<div class="cb" style="top:330.5px"></div>
<svg class="th2" style="top:326.1px" viewBox="0 0 15 15"><defs><clipPath id="c2"><rect width="15" height="15" rx="1.5"/></clipPath><filter id="bl2" x="-10%" y="-10%" width="120%" height="120%"><feGaussianBlur stdDeviation="0.7"/></filter></defs><g clip-path="url(#c2)"><rect width="15" height="15" fill="#8a8070"/><g filter="url(#bl2)"><rect x="0" y="0" width="5" height="5" fill="#e4ecf2"/><rect x="0" y="4" width="5" height="2" fill="#7ab0a0"/><rect x="5" y="0" width="3" height="6" fill="#3a5a3a"/><rect x="8" y="0" width="2.5" height="9" fill="#9aa4ac"/><rect x="10.5" y="0" width="1.5" height="9" fill="#d8c090"/><rect x="12" y="0" width="3" height="7" fill="#4a6a50"/><rect x="0" y="6" width="4" height="4" fill="#3a6030"/><rect x="4" y="7" width="6" height="3" fill="#b8a890"/><rect x="0" y="10" width="6" height="5" fill="#d8b088"/><rect x="6" y="10" width="9" height="5" fill="#2a2220"/><rect x="9" y="8" width="6" height="3" fill="#6a5040"/></g></g></svg>
<div class="td" style="left:448.3px;top:328.4px">4 min koenju 3 Bedroo...</div>
<div class="ts" style="left:448.3px;top:334.8px">Shinjuku, Tokyo</div>
<div class="td" style="left:516px;top:331.4px">4 - 12 March, 2017</div>
<div class="td" style="left:563.7px;top:331.4px">6 Nights</div>
<div class="td" style="left:587.4px;top:331.4px">4 Guest</div>
<svg class="av" style="top:329px" viewBox="0 0 10 10"><defs><clipPath id="a1"><circle cx="5" cy="5" r="5"/></clipPath><filter id="ab1"><feGaussianBlur stdDeviation="0.35"/></filter></defs><g clip-path="url(#a1)"><rect width="10" height="10" fill="#f6f2ee"/><g filter="url(#ab1)"><ellipse cx="5" cy="4.4" rx="2.2" ry="2.7" fill="#d8a888"/><path d="M2.7 3.6C2.7 1.6 3.8 1 5 1S7.4 1.6 7.4 3.4L6.8 3C6 2.6 4 2.6 3.2 3.2Z" fill="#1e1612"/><path d="M3.4 5.6C3.8 7 4.3 7.4 5 7.4S6.4 7 6.7 5.6L6.5 6.6C6 7.3 4 7.3 3.6 6.6Z" fill="#2a1e18"/><path d="M1.5 10C2 8.2 3.4 7.6 5 7.6S8 8.2 8.5 10Z" fill="#151515"/></g></g></svg>
<div class="td" style="left:634.8px;top:331.4px">Tony Murray</div>
<div class="td" style="left:684.2px;top:331.4px">IDR 19,800,000</div>
<div class="st ok" style="top:330.9px">Accepted</div>
<div class="dots" style="top:333.0px"><i style="left:0"></i><i style="left:2.6px"></i><i style="left:5.2px"></i></div>
<div class="cb" style="top:361.5px"></div>
<svg class="th2" style="top:357.1px" viewBox="0 0 15 15"><defs><clipPath id="c3"><rect width="15" height="15" rx="1.5"/></clipPath><filter id="bl3" x="-10%" y="-10%" width="120%" height="120%"><feGaussianBlur stdDeviation="0.7"/></filter></defs><g clip-path="url(#c3)"><rect width="15" height="15" fill="#2a80c8"/><g filter="url(#bl3)"><rect x="0" y="0" width="15" height="3" fill="#0c6cd4"/><rect x="0" y="3" width="15" height="2.5" fill="#a8d4f4"/><rect x="0" y="4" width="6" height="1.5" fill="#eef6fc"/><rect x="4" y="5" width="8" height="1.5" fill="#4a3028"/><rect x="0" y="6.5" width="15" height="2.5" fill="#3a4a38"/><rect x="2" y="7" width="3" height="1.5" fill="#c8a070"/><rect x="0" y="9" width="15" height="2.5" fill="#2aa0c8"/><rect x="0" y="11.5" width="15" height="2" fill="#d8d0c8"/><rect x="6" y="11.5" width="4" height="2" fill="#f4f0ec"/><rect x="0" y="13.5" width="15" height="1.5" fill="#0c1830"/></g></g></svg>
<div class="td" style="left:448.3px;top:359.4px">4 min koenju 3 Bedroo...</div>
<div class="ts" style="left:448.3px;top:365.8px">Asakusa, Tokyo</div>
<div class="td" style="left:516px;top:362.4px">24 - 29 Jan, 2017</div>
<div class="td" style="left:563.7px;top:362.4px">4 Nights</div>
<div class="td" style="left:587.4px;top:362.4px">4 Guest</div>
<svg class="av" style="top:360px" viewBox="0 0 10 10"><defs><clipPath id="a2"><circle cx="5" cy="5" r="5"/></clipPath><filter id="ab2"><feGaussianBlur stdDeviation="0.35"/></filter></defs><g clip-path="url(#a2)"><rect width="10" height="10" fill="#6a7a3a"/><g filter="url(#ab2)"><rect x="0" y="0" width="4" height="10" fill="#5a6a30"/><rect x="7" y="0" width="3" height="10" fill="#a88a3a"/><ellipse cx="5" cy="4.6" rx="2" ry="2.4" fill="#c89a78"/><path d="M2.9 4C2.9 2.2 3.9 1.7 5 1.7S7.1 2.2 7.1 4L6.6 3.3C6 3 4 3 3.4 3.4Z" fill="#2a2018"/><path d="M1.3 10C1.8 8 3.3 7.3 5 7.3S8.2 8 8.7 10Z" fill="#203a48"/><path d="M4.4 7.4L5 9 5.6 7.4Z" fill="#e8e8e8"/></g></g></svg>
<div class="td" style="left:634.8px;top:362.4px">Jesse Carroll</div>
<div class="td" style="left:684.2px;top:362.4px">IDR 870,000</div>
<div class="st ex" style="top:361.9px">Expired</div>
<div class="dots" style="top:364.0px"><i style="left:0"></i><i style="left:2.6px"></i><i style="left:5.2px"></i></div>
<div class="cb" style="top:392.5px"></div>
<svg class="th2" style="top:388.1px" viewBox="0 0 15 15"><defs><clipPath id="c4"><rect width="15" height="15" rx="1.5"/></clipPath><filter id="bl4" x="-10%" y="-10%" width="120%" height="120%"><feGaussianBlur stdDeviation="0.7"/></filter></defs><g clip-path="url(#c4)"><rect width="15" height="15" fill="#3a3a6a"/><g filter="url(#bl4)"><rect x="0" y="0" width="15" height="2.5" fill="#b088e0"/><rect x="5" y="0" width="10" height="2.5" fill="#e8a8c0"/><rect x="0" y="2.5" width="15" height="2" fill="#d89080"/><rect x="0" y="4.5" width="4" height="5" fill="#6080d0"/><rect x="4" y="4.5" width="4" height="3" fill="#c8c8e8"/><rect x="8" y="4.5" width="7" height="5" fill="#1a2040"/><rect x="11" y="5" width="3" height="3" fill="#2a80a0"/><rect x="0" y="9.5" width="5" height="3" fill="#802828"/><rect x="5" y="9.5" width="5" height="3" fill="#d8a050"/><rect x="10" y="9.5" width="5" height="3" fill="#402818"/><rect x="0" y="12.5" width="15" height="2.5" fill="#f09858"/></g></g></svg>
<div class="td" style="left:448.3px;top:390.4px">Japanese Style, Tatami...</div>
<div class="ts" style="left:448.3px;top:396.8px">Kyoto</div>
<div class="td" style="left:516px;top:393.4px">2 - 3 June, 2017</div>
<div class="td" style="left:563.7px;top:393.4px">6 Nights</div>
<div class="td" style="left:587.4px;top:393.4px">5 Guest</div>
<div class="av" style="top:391.0px;background:#f0282c">EA</div>
<div class="td" style="left:634.8px;top:393.4px">Erik Armstrong</div>
<div class="td" style="left:684.2px;top:393.4px">IDR 2,100,000</div>
<div class="st ok" style="top:392.9px">Accepted</div>
<div class="dots" style="top:395.0px"><i style="left:0"></i><i style="left:2.6px"></i><i style="left:5.2px"></i></div>
<div class="sep" style="top:319.2px"></div>
<div class="sep" style="top:381.8px"></div>
<div class="sep" style="top:420.2px"></div>
<!-- items -->
<div class="pi" style="top:124px;height:32px"><div class="pt">Bitcoin exchange</div><div class="bd r" style="left:64.0px;width:29px">0.0001BTC</div><div class="pd">14 min ago</div><svg class="ar" viewBox="0 0 5 6.5" fill="none" stroke="#c4c4c4" stroke-width="0.75" stroke-linecap="round" stroke-linejoin="round"><path d="M2.5 0.5V5.6M0.9 4L2.5 5.7 4.1 4"/></svg></div>
<div class="pi" style="top:156px;height:32px"><div class="pt">Deposit issues</div><div class="bd g" style="left:56.3px;width:34.7px">1.4658123BTC</div><div class="pd">Yesterday</div></div>
<div class="pi sel" style="top:188px;height:32px"><div class="pt" style="transform:scaleX(0.875)">Bitcoin withdraws</div><div class="bd b" style="left:64.0px;width:30.5px">0.00153BTC</div><div class="pd">22 sep, 2018</div><svg class="ar" viewBox="0 0 5 6.5" fill="none" stroke="#c4c4c4" stroke-width="0.75" stroke-linecap="round" stroke-linejoin="round"><path d="M2.5 0.5V5.6M0.9 4L2.5 5.7 4.1 4"/></svg></div>
<div class="pi" style="top:220px;height:32px"><div class="pt">Etherium Payments</div><div class="bd k" style="left:69.1px;width:31.7px">0.000394ETC</div><div class="pd">4 aug, 2018</div></div>
<div class="pi" style="top:252px;height:32px"><div class="pt">Graphic cards</div><div class="bd rd" style="left:53.3px;width:24.8px">5684.99$</div><div class="pd">4 aug, 2018</div></div>
<div class="pi" style="top:284px;height:32px"><div class="pt">Upgrade wallet</div><div class="bd p" style="left:56.7px;width:20.3px">32.99$</div><div class="pd">17 jun, 2017</div><svg class="ar" viewBox="0 0 5 6.5" fill="none" stroke="#c4c4c4" stroke-width="0.75" stroke-linecap="round" stroke-linejoin="round"><path d="M2.5 0.5V5.6M0.9 4L2.5 5.7 4.1 4"/></svg></div>
<div class="pi" style="top:316px;height:33px"><div class="pt">Etherium Withdraws</div><div class="bd k" style="left:71.5px;width:29.6px">0.00394ETC</div><div class="pd">13 aug, 2016</div></div>
<div class="pi" style="top:349px;height:32px"><div class="pt" style="transform:scaleX(0.825)">Exchange BTC to ETC</div><div class="bd g" style="left:74.2px;width:22.7px">412.65$</div><div class="pd">12 aug, 2016</div><svg class="ar" viewBox="0 0 5 6.5" fill="none" stroke="#c4c4c4" stroke-width="0.75" stroke-linecap="round" stroke-linejoin="round"><path d="M2.5 0.5V5.6M0.9 4L2.5 5.7 4.1 4"/></svg></div>
<div class="pi" style="top:381px;height:32px"><div class="pt">Change plans</div><div class="bd o" style="left:52.4px;width:19.4px">32.99$</div><div class="pd">17 jun, 2017</div></div>
</body></html>
